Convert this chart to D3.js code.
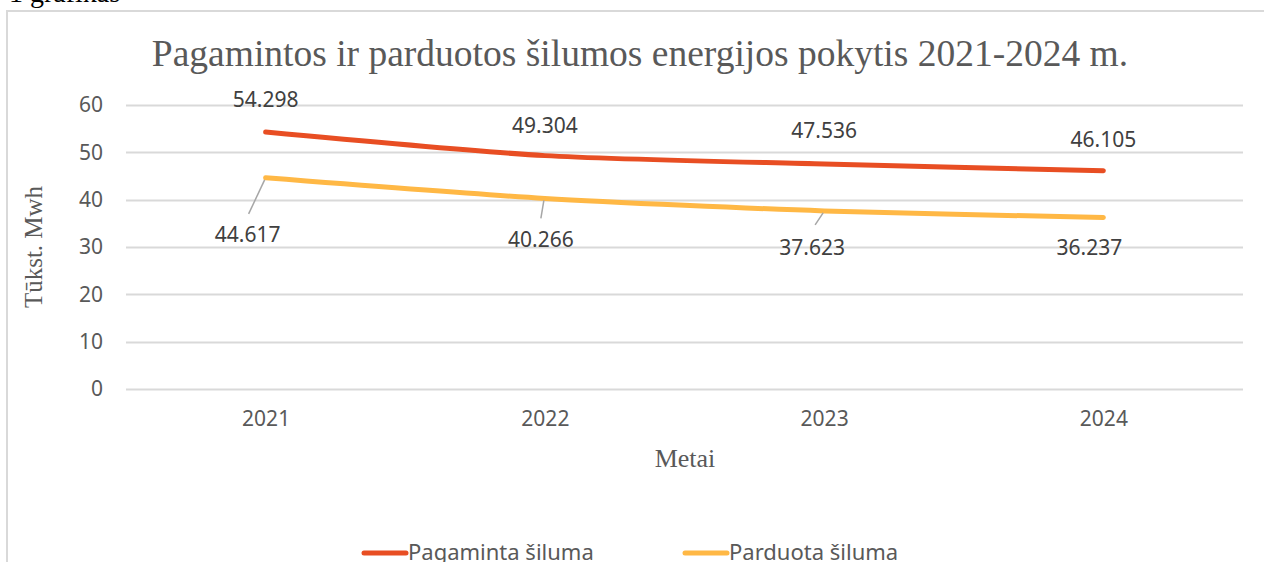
<!DOCTYPE html>
<html>
<head>
<meta charset="utf-8">
<script src="https://cdn.jsdelivr.net/npm/d3@7"></script>
<style>
  body { margin: 0; background: #fff; }
  svg { display: block; }
</style>
</head>
<body>
<svg id="chart" width="1264" height="562"></svg>
<script>
const years = ['2021', '2022', '2023', '2024']
const produced = [54.298, 49.304, 47.536, 46.105]
const sold = [44.617, 40.266, 37.623, 36.237]
const yTicks = [0, 10, 20, 30, 40, 50, 60]
const seriesNames = ['Pagaminta šiluma', 'Parduota šiluma']
const seriesColors = ['#E84E23', '#FFB845']

const svg = d3.select('#chart')
const margin = { left: 126, right: 21, top: 105, bottom: 173 }
const width = 1264
const height = 562

// frame of the chart area (only top and left edges are in view)
svg.append('path')
  .attr('d', `M7,${height} V11 H${width}`)
  .attr('fill', 'none')
  .attr('stroke', '#d9d9d9')
  .attr('stroke-width', 2)

svg.append('text')
  .attr('x', 9).attr('y', 2)
  .attr('font-family', 'Liberation Serif')
  .attr('font-size', 28)
  .attr('fill', '#000')
  .text('1 grafikas')

const x = d3.scalePoint()
  .domain(years)
  .range([margin.left, width - margin.right])
  .padding(0.5)

const y = d3.scaleLinear()
  .domain([0, 60])
  .range([height - margin.bottom, margin.top])

// gridlines
svg.append('g')
  .selectAll('line')
  .data(yTicks)
  .join('line')
  .attr('x1', margin.left)
  .attr('x2', width - margin.right)
  .attr('y1', d => Math.round(y(d)) + 0.5)
  .attr('y2', d => Math.round(y(d)) + 0.5)
  .attr('stroke', '#d9d9d9')
  .attr('stroke-width', 2)

const yAxis = svg.append('g')
  .attr('transform', `translate(${margin.left - 23},0)`)
  .call(d3.axisLeft(y).tickValues(yTicks).tickSize(0).tickPadding(0))
yAxis.select('.domain').remove()
yAxis.selectAll('text')
  .attr('font-family', 'Noto Sans')
  .attr('font-size', 21)
  .attr('fill', '#595959')

const xAxis = svg.append('g')
  .attr('transform', `translate(0,${y(0) + 22})`)
  .call(d3.axisBottom(x).tickSize(0).tickPadding(0))
xAxis.select('.domain').remove()
xAxis.selectAll('text')
  .attr('font-family', 'Noto Sans')
  .attr('font-size', 21)
  .attr('fill', '#595959')
  .attr('dy', '0.71em')

// titles
svg.append('text')
  .attr('x', 640).attr('y', 66)
  .attr('text-anchor', 'middle')
  .attr('font-family', 'Liberation Serif')
  .attr('font-size', 37.5)
  .attr('fill', '#595959')
  .text('Pagamintos ir parduotos šilumos energijos pokytis 2021-2024 m.')

svg.append('text')
  .attr('transform', `translate(42,${y(30)}) rotate(-90)`)
  .attr('text-anchor', 'middle')
  .attr('font-family', 'Liberation Serif')
  .attr('font-size', 25)
  .attr('fill', '#595959')
  .text('Tūkst. Mwh')

svg.append('text')
  .attr('x', 685).attr('y', 467)
  .attr('text-anchor', 'middle')
  .attr('font-family', 'Liberation Serif')
  .attr('font-size', 26)
  .attr('fill', '#595959')
  .text('Metai')

// lines
const line = d3.line()
  .x((d, i) => x(years[i]))
  .y(d => y(d))
  .curve(d3.curveCardinal.tension(0.3))

;[produced, sold].forEach((vals, k) => {
  svg.append('path')
    .datum(vals)
    .attr('d', line)
    .attr('fill', 'none')
    .attr('stroke', seriesColors[k])
    .attr('stroke-width', 5)
    .attr('stroke-linecap', 'round')
})

// data labels, red series above
const labelFont = { family: 'Noto Sans', size: 21, fill: '#404040' }
const fmt = d3.format('.3f')
const producedDx = [0, 0, 0, 0]
const producedOffsets = [-25, -23, -26, -24]
svg.append('g')
  .selectAll('text')
  .data(produced)
  .join('text')
  .attr('x', (d, i) => x(years[i]) + producedDx[i])
  .attr('y', (d, i) => y(d) + producedOffsets[i])
  .attr('text-anchor', 'middle')
  .attr('font-family', labelFont.family)
  .attr('font-size', labelFont.size)
  .attr('fill', labelFont.fill)
  .text(d => fmt(d))

// sold series labels below, with leader lines
const soldDx = [-18, -4, -12, -14]
const soldDy = [64, 49, 44, 38]
svg.append('g')
  .selectAll('line')
  .data(sold.slice(0, 3))
  .join('line')
  .attr('x1', (d, i) => x(years[i]) - 1)
  .attr('y1', d => y(d) + 2)
  .attr('x2', (d, i) => x(years[i]) + [-17, -4, -9][i])
  .attr('y2', (d, i) => y(d) + [36, 20, 14][i])
  .attr('stroke', '#a6a6a6')
  .attr('stroke-width', 1.5)

svg.append('g')
  .selectAll('text')
  .data(sold)
  .join('text')
  .attr('x', (d, i) => x(years[i]) + soldDx[i])
  .attr('y', (d, i) => y(d) + soldDy[i])
  .attr('text-anchor', 'middle')
  .attr('font-family', labelFont.family)
  .attr('font-size', labelFont.size)
  .attr('fill', labelFont.fill)
  .text(d => fmt(d))

// legend
const legendX = [362, 683]
const legend = svg.append('g')
  .selectAll('g')
  .data(seriesNames)
  .join('g')
  .attr('transform', (d, i) => `translate(${legendX[i]},553)`)
legend.append('line')
  .attr('x1', 2).attr('x2', 44)
  .attr('stroke', (d, i) => seriesColors[i])
  .attr('stroke-width', 5)
  .attr('stroke-linecap', 'round')
legend.append('text')
  .attr('x', 46).attr('y', 7)
  .attr('font-family', 'Noto Sans')
  .attr('font-size', 22)
  .attr('fill', '#595959')
  .text(d => d)
</script>
</body>
</html>
